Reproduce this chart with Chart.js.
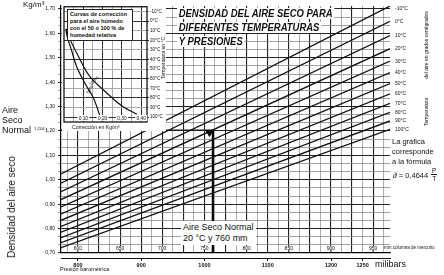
<!DOCTYPE html>
<html><head><meta charset="utf-8">
<script src="https://cdn.jsdelivr.net/npm/chart.js@4"></script>
<style>
html,body{margin:0;padding:0;background:#fff;}
#wrap{position:relative;width:444px;height:275px;overflow:hidden;font-family:"Liberation Sans",Arial,sans-serif;color:#111;}
canvas{position:absolute;}
.t{position:absolute;white-space:nowrap;line-height:1;}
.rot{position:absolute;white-space:nowrap;line-height:1;transform:translate(-50%,-50%) rotate(-90deg);}
.title{position:absolute;white-space:nowrap;font-weight:bold;font-style:italic;font-size:11px;line-height:1;background:#fff;transform-origin:0 0;transform:scaleX(0.86);padding:0 2px;}
</style></head><body>
<div id="wrap">
<canvas id="main" width="444" height="275" style="left:0;top:0"></canvas>
<canvas id="inset" width="104" height="128" style="left:62px;top:3px"></canvas>

<div class="t" style="left:23px;top:1px;font-size:8px;">Kg/m³</div>
<div class="t" style="left:2px;top:105px;font-size:9px;line-height:10px;">Aire<br>Seco<br>Normal</div>
<div class="t" style="left:34px;top:127px;font-size:4.3px;">1,204 –</div>
<div class="rot" style="left:12px;top:207px;font-size:10px;">Densidad del aire seco</div>

<div class="t" style="left:67px;top:9px;width:60px;font-size:5.6px;line-height:7px;background:#fff;border:1px solid #222;padding:1px 2px;font-weight:bold;">Curvas de corrección<br>para el aire húmedo<br>con el 50 ó 100 % de<br>humedad relativa</div>
<div class="t" style="left:70px;top:125px;font-size:5.2px;background:#fff;padding:0 2px;">Corrección en Kg/m³</div>
<div class="rot" style="left:163px;top:58px;font-size:5px;">Temperatura en °C</div>

<div class="title" style="left:177px;top:8px;">DENSIDAD DEL AIRE SECO PARA</div>
<div class="title" style="left:177px;top:22px;">DIFERENTES TEMPERATURAS</div>
<div class="title" style="left:177px;top:36px;">Y PRESIONES</div>

<div class="rot" style="left:426px;top:45px;font-size:5px;">del aire en grados centígrados</div>
<div class="rot" style="left:426px;top:112px;font-size:5px;">Temperatura</div>

<div class="t" style="left:392px;top:137px;font-size:7.5px;line-height:10px;">La gráfica<br>corresponde<br>a la fórmula</div>
<div class="t" style="left:393px;top:172px;font-size:7.5px;">∂ = 0,4644</div>
<div class="t" style="left:431px;top:167px;font-size:6.5px;line-height:7.5px;text-align:center;"><span style="border-bottom:1px solid #111;padding:0 1px;">P</span><br>T</div>

<div class="t" style="left:181px;top:221px;font-size:9px;line-height:11px;background:#fff;padding:1px 2px;">Aire Seco Normal<br>20 °C y 760 mm</div>

<div class="t" style="left:384px;top:246px;font-size:4.5px;">mm columna de mercurio</div>
<div class="t" style="left:60px;top:267px;font-size:5.5px;">Presión barométrica</div>
<div class="t" style="left:375px;top:260px;font-size:9px;">milibars</div>
</div>
<script>
// ---- data ----
const tempLabels = ['-10°C','0°C','10°C','20°C','30°C','40°C','50°C','60°C','70°C','80°C','90°C','100°C'];
const pressureEnds = [580, 970];            // mm Hg at left / right edge of the plot
const densityAtLowP  = [1.024,0.986,0.951,0.919,0.889,0.860,0.834,0.809,0.785,0.763,0.742,0.722];
const densityAtHighP = [1.712,1.649,1.591,1.537,1.486,1.439,1.394,1.352,1.313,1.276,1.241,1.207];
const mmHgTicks = [600,650,700,750,800,850,900,950];
const mbarTicks = [800,900,1000,1100,1200,1250];
const densityTicks = [0.70,0.80,0.90,1.00,1.10,1.20,1.30,1.40,1.50,1.60,1.70];
const densityTickLabels = ['0,70','0,80','0,90','1,00','1,10','1,20','1,30','1,40','1,50','1,60','1,70'];
const normalAirPressure = [760];
const normalAirDensity = [1.204];
// inset: humid air correction curves
const insetTemp50  = [8, 14, 31, 48, 65, 79, 99];
const insetCorr50  = [0.010,0.014,0.040,0.067,0.109,0.150,0.187];
const insetTemp100 = [8, 14, 36, 58, 75, 89, 97];
const insetCorr100 = [0.012,0.021,0.073,0.135,0.223,0.306,0.378];
const insetTempTicks = [-10,0,10,20,30,40,50,60,70,80,90,100];
const insetTempLabels = ['-10°C','0°C','10°C','20°C','30°C','40°C','50°C','60°C','70°C','80°C','90°C','100°C'];
const insetCorrTicks = [0.10,0.20,0.30,0.40];
const insetCorrLabels = ['0,10','0,20','0,30','0,40'];

const MMHG_TO_MBAR = 1.333224;
const FONT = '"Liberation Sans", Arial, sans-serif';

// ---- main chart ----
const lineSets = tempLabels.map((t,i)=>({
  label:t,
  data:[{x:pressureEnds[0],y:densityAtLowP[i]},{x:pressureEnds[1],y:densityAtHighP[i]}],
  borderColor:'#111', borderWidth:1.3, pointRadius:0, tension:0
}));
const refSets = [
  {label:'ref-v', data:[{x:normalAirPressure[0],y:0.70},{x:normalAirPressure[0],y:normalAirDensity[0]}], borderColor:'#000', borderWidth:2.2, pointRadius:0},
  {label:'ref-h', data:[{x:pressureEnds[0],y:normalAirDensity[0]},{x:normalAirPressure[0],y:normalAirDensity[0]}], borderColor:'#222', borderWidth:1, pointRadius:0},
  {label:'ref-p', data:[{x:normalAirPressure[0]-4,y:normalAirDensity[0]-0.01}], showLine:false, pointStyle:'triangle', rotation:180, pointRadius:4, backgroundColor:'#000', borderColor:'#000'}
];

const mainLabels = {
  id:'mainLabels',
  afterDraw(chart){
    const ctx = chart.ctx, xs = chart.scales.x, a = chart.chartArea;
    ctx.save();
    ctx.fillStyle = '#111'; ctx.strokeStyle = '#111';
    ctx.font = '5px '+FONT; ctx.textAlign='center'; ctx.textBaseline='bottom';
    mmHgTicks.forEach(v=>{
      const px = xs.getPixelForValue(v);
      ctx.fillStyle='#fff'; ctx.fillRect(px-6, a.bottom-7, 12, 6);
      ctx.fillStyle='#111'; ctx.fillText(String(v), px, a.bottom-1.5);
      ctx.beginPath(); ctx.moveTo(px, a.bottom); ctx.lineTo(px, a.bottom-3); ctx.stroke();
    });
    ctx.textAlign='left'; ctx.textBaseline='middle'; ctx.font='5px '+FONT;
    tempLabels.forEach((t,i)=>{
      const pts = chart.getDatasetMeta(i).data;
      const y = Math.max(a.top+3, pts[pts.length-1].y);
      ctx.fillText(t, a.right+5, y);
    });
    ctx.restore();
  }
};

const yGrid = [];
for (let k=0;k<=30;k++) yGrid.push(0.70 + k/30);
const xGrid = [];
for (let v=587.5; v<=970; v+=12.5) xGrid.push(v);

new Chart(document.getElementById('main'), {
  type:'line',
  data:{datasets:[...lineSets, ...refSets]},
  options:{
    responsive:false, animation:false,
    layout:{padding:{top:5,right:54,left:0,bottom:0}},
    plugins:{legend:{display:false},tooltip:{enabled:false}},
    scales:{
      x:{type:'linear', min:pressureEnds[0], max:pressureEnds[1], position:'bottom',
         afterBuildTicks:s=>{s.ticks = xGrid.map(v=>({value:v}));},
         afterFit:s=>{s.height=5;},
         ticks:{display:false},
         grid:{drawTicks:false, color:c=> (c.tick && Math.abs(c.tick.value%25)<0.01) ? '#222' : '#999', lineWidth:c=>(c.tick && Math.abs(c.tick.value%25)<0.01)?1.1:0.8},
         border:{display:true,color:'#000',width:1.2}},
      x2:{type:'linear', min:pressureEnds[0]*MMHG_TO_MBAR, max:pressureEnds[1]*MMHG_TO_MBAR, position:'bottom',
         afterBuildTicks:s=>{s.ticks = mbarTicks.map(v=>({value:v}));},
         afterFit:s=>{s.height=17;},
         ticks:{font:{size:5.5,family:FONT,weight:'bold'}, color:'#111', padding:1, maxRotation:0, autoSkip:false,
           callback:(v)=>String(v)},
         grid:{display:true, drawOnChartArea:false, drawTicks:true, tickLength:3, color:'#111'},
         border:{display:true,color:'#111',width:1}},
      y:{type:'linear', min:0.70, max:1.712,
         afterBuildTicks:s=>{s.ticks = yGrid.map(v=>({value:v}));},
         afterFit:s=>{s.width=61;},
         ticks:{font:{size:5,family:FONT}, color:'#111', padding:3, autoSkip:false,
           callback:(v)=>{const i = densityTicks.findIndex(d=>Math.abs(d-v)<0.001); return i>=0?densityTickLabels[i]:'';}},
         grid:{drawTicks:true, tickLength:3, color:c=>{const v=c.tick?c.tick.value:0; return densityTicks.some(d=>Math.abs(d-v)<0.001)?'#222':'#8a8a8a';}, lineWidth:c=>{const v=c.tick?c.tick.value:0; return densityTicks.some(d=>Math.abs(d-v)<0.001)?1.1:0.8;}},
         border:{display:true,color:'#000',width:1.2}}
    }
  },
  plugins:[mainLabels]
});

// ---- inset chart ----
const insetBg = {
  id:'insetBg',
  beforeDraw(chart){const c=chart.ctx; c.save(); c.fillStyle='#fff'; c.fillRect(0,0,chart.width,chart.height); c.restore();},
  afterDraw(chart){
    const ctx=chart.ctx, a=chart.chartArea, xs=chart.scales.x;
    ctx.save();
    ctx.strokeStyle='#000'; ctx.lineWidth=1.2; ctx.strokeRect(a.left,a.top,a.right-a.left,a.bottom-a.top);
    ctx.font='4.8px '+FONT; ctx.textAlign='center'; ctx.textBaseline='bottom';
    insetCorrTicks.forEach((v,i)=>{
      const px=xs.getPixelForValue(v);
      ctx.fillStyle='#fff'; ctx.fillRect(px-6,a.bottom-7,12,6);
      ctx.fillStyle='#111'; ctx.fillText(insetCorrLabels[i], px, a.bottom-1);
    });
    const m50 = chart.getDatasetMeta(0).data[4], m100 = chart.getDatasetMeta(1).data[3];
    ctx.font='4.5px '+FONT; ctx.textAlign='center'; ctx.textBaseline='middle';
    ctx.save(); ctx.translate(m50.x+5, m50.y+6); ctx.rotate(-1.0); ctx.fillText('50%',0,0); ctx.restore();
    ctx.save(); ctx.translate(m100.x+4, m100.y+4); ctx.rotate(-0.8); ctx.fillText('100%',0,0); ctx.restore();
    ctx.restore();
  }
};
const insetXGrid = [0.05,0.10,0.15,0.20,0.25,0.30,0.35,0.40];
new Chart(document.getElementById('inset'), {
  type:'line',
  data:{datasets:[
    {label:'50%', data:insetTemp50.map((t,i)=>({x:insetCorr50[i],y:t})), borderColor:'#111', borderWidth:1.2, pointRadius:0, cubicInterpolationMode:'monotone'},
    {label:'100%', data:insetTemp100.map((t,i)=>({x:insetCorr100[i],y:t})), borderColor:'#111', borderWidth:1.2, pointRadius:0, cubicInterpolationMode:'monotone'}
  ]},
  options:{
    responsive:false, animation:false, indexAxis:'y',
    layout:{padding:{top:2,left:2,right:0,bottom:9}},
    plugins:{legend:{display:false},tooltip:{enabled:false}},
    scales:{
      x:{type:'linear', min:0, max:0.43, display:true,
         afterBuildTicks:s=>{s.ticks = insetXGrid.map(v=>({value:v}));},
         afterFit:s=>{s.height=0;},
         ticks:{display:false},
         grid:{drawTicks:false, color:c=>{const v=c.tick?c.tick.value:0; return (Math.round(v*100)%10===0)?'#333':'#aaa';}, lineWidth:1},
         border:{display:false}},
      y:{type:'linear', min:-15, max:105, reverse:true, position:'right',
         afterBuildTicks:s=>{s.ticks = insetTempTicks.map(v=>({value:v}));},
         afterFit:s=>{s.width=19;},
         ticks:{font:{size:4.6,family:FONT}, color:'#111', padding:1, autoSkip:false,
           callback:(v)=>{const i=insetTempTicks.indexOf(v); return i>=0?insetTempLabels[i]:'';}},
         grid:{drawTicks:true, tickLength:2, color:c=>{const v=c.tick?c.tick.value:0; return (v%20===0)?'#333':'#aaa';}, lineWidth:1},
         border:{display:false}}
    }
  },
  plugins:[insetBg]
});
</script>
</body></html>
